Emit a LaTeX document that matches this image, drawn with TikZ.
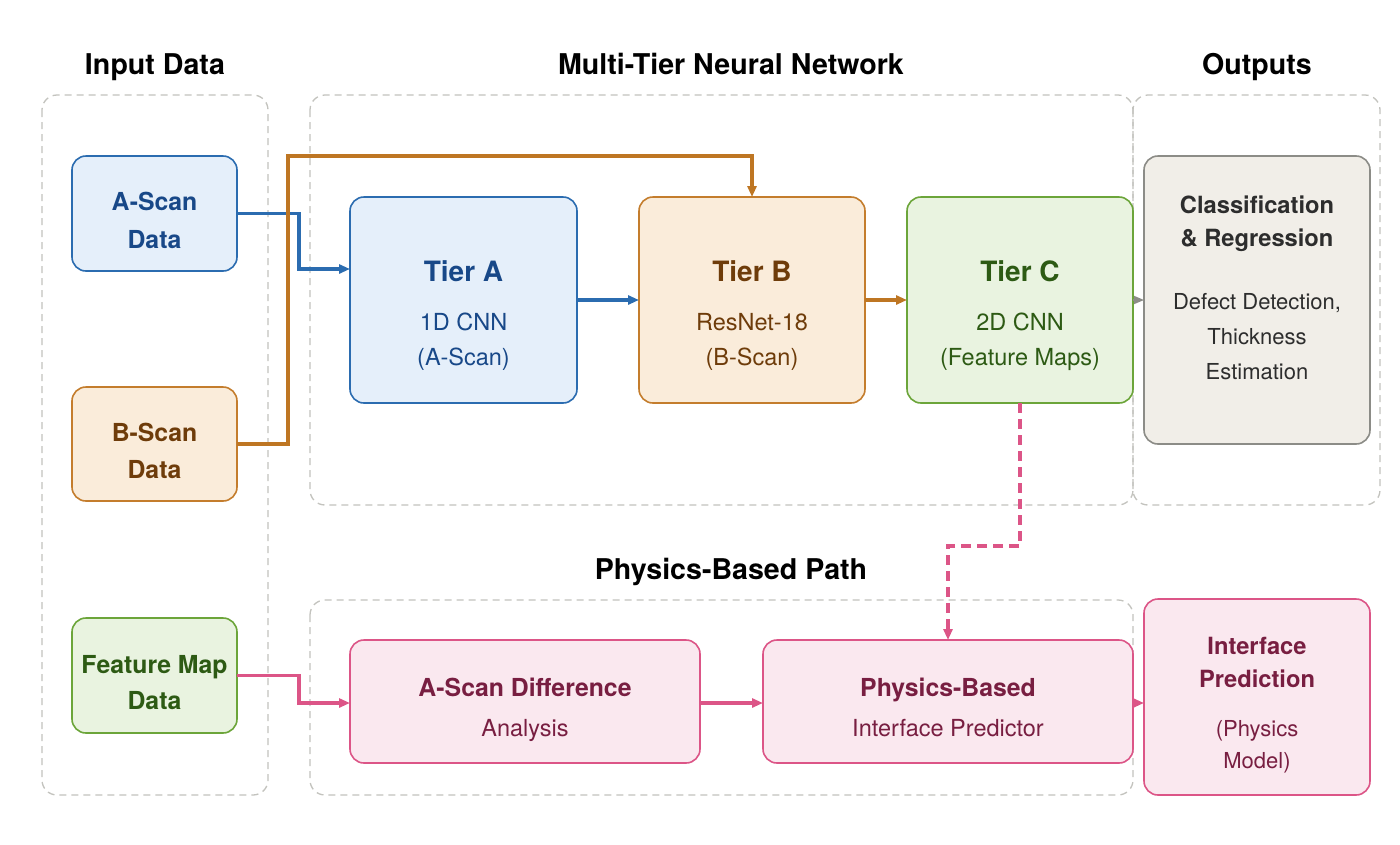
\documentclass[tikz,border=0pt]{standalone}
\usepackage{fontspec}
\setmainfont{TeX Gyre Heros}
\usetikzlibrary{arrows.meta}
\definecolor{bluD}{RGB}{43,108,176}
\definecolor{bluF}{RGB}{229,239,250}
\definecolor{bluT}{RGB}{24,72,136}
\definecolor{oraD}{RGB}{196,125,45}
\definecolor{oraF}{RGB}{250,236,218}
\definecolor{oraT}{RGB}{110,60,10}
\definecolor{oraA}{RGB}{190,118,35}
\definecolor{grnD}{RGB}{108,165,58}
\definecolor{grnF}{RGB}{233,243,224}
\definecolor{grnT}{RGB}{45,90,20}
\definecolor{gryD}{RGB}{140,140,135}
\definecolor{gryF}{RGB}{241,238,232}
\definecolor{gryT}{RGB}{45,45,45}
\definecolor{pnkD}{RGB}{220,85,135}
\definecolor{pnkF}{RGB}{250,232,239}
\definecolor{pnkT}{RGB}{120,30,65}
\definecolor{grpD}{RGB}{195,195,190}
\tikzset{
  grp/.style={draw=grpD, line width=1.3pt, dash pattern=on 7pt off 5pt, rounded corners=15pt},
  box/.style={rectangle, rounded corners=14pt, line width=1.6pt, inner sep=0pt, outer sep=0pt},
  bbox/.style={box, draw=bluD, fill=bluF},
  obox/.style={box, draw=oraD, fill=oraF},
  gbox/.style={box, draw=grnD, fill=grnF},
  ybox/.style={box, draw=gryD, fill=gryF},
  pbox/.style={box, draw=pnkD, fill=pnkF},
  ttl/.style={anchor=base, font=\fontsize{28.6}{30}\selectfont\bfseries, text=black, inner sep=0pt},
  hb/.style={anchor=base, font=\fontsize{24.8}{28}\selectfont\bfseries, inner sep=0pt},
  hbo/.style={anchor=base, font=\fontsize{23.7}{28}\selectfont\bfseries, inner sep=0pt},
  ht/.style={anchor=base, font=\fontsize{28}{32}\selectfont\bfseries, inner sep=0pt},
  tx/.style={anchor=base, font=\fontsize{23.5}{26}\selectfont, inner sep=0pt},
  txo/.style={anchor=base, font=\fontsize{22}{26}\selectfont, inner sep=0pt},
  tip/.style={-{Triangle[length=11pt,width=9pt]}},
  barrow/.style={tip, draw=bluD, line width=3.2pt},
  oarrow/.style={tip, draw=oraA, line width=3.2pt},
  parrow/.style={tip, draw=pnkD, line width=3.2pt},
  garrow/.style={-{Triangle[length=10pt,width=8pt]}, draw=gryD, line width=1.5pt},
  darrow/.style={-{Triangle[length=11pt,width=9pt]}, draw=pnkD, line width=3.2pt, dash pattern=on 10pt off 6pt},
}
\begin{document}
\begin{tikzpicture}[x=1pt,y=-1pt]
\useasboundingbox (0,0) rectangle (1400,844);
\fill[white] (0,0) rectangle (1400,844);
% groups
\draw[grp] (42,95) rectangle (268,795);
\draw[grp] (310,95) rectangle (1133,505);
\draw[grp] (1133,95) rectangle (1380,505);
\draw[grp] (310,600) rectangle (1133,795);
% titles
\node[ttl] (t1) at (155,74) {Input Data};
\node[ttl] (t2) at (731,74) {Multi-Tier Neural Network};
\node[ttl] (t3) at (1257,74) {Outputs};
\node[ttl] (t4) at (731,579) {Physics-Based Path};
% input boxes
\node[bbox, minimum width=165pt, minimum height=115pt] (aS) at (154.5,213.5) {};
\node[hb, text=bluT] (aS1) at (154.5,210) {A-Scan};
\node[hb, text=bluT] (aS2) at (154.5,248) {Data};
\node[obox, minimum width=165pt, minimum height=114pt] (bS) at (154.5,444) {};
\node[hb, text=oraT] (bS1) at (154.5,441) {B-Scan};
\node[hb, text=oraT] (bS2) at (154.5,478) {Data};
\node[gbox, minimum width=165pt, minimum height=115pt] (fM) at (154.5,675.5) {};
\node[hb, text=grnT] (fM1) at (154.5,673) {Feature Map};
\node[hb, text=grnT] (fM2) at (154.5,709) {Data};
% tiers
\node[bbox, minimum width=227pt, minimum height=206pt] (tA) at (463.5,300) {};
\node[ht, text=bluT] (tA1) at (463.5,281) {Tier A};
\node[tx, text=bluT] (tA2) at (463.5,330) {1D CNN};
\node[tx, text=bluT] (tA3) at (463.5,365.5) {(A-Scan)};
\node[obox, minimum width=226pt, minimum height=206pt] (tB) at (752,300) {};
\node[ht, text=oraT] (tB1) at (752,281) {Tier B};
\node[tx, text=oraT] (tB2) at (752,330) {ResNet-18};
\node[tx, text=oraT] (tB3) at (752,365.5) {(B-Scan)};
\node[gbox, minimum width=226pt, minimum height=206pt] (tC) at (1020,300) {};
\node[ht, text=grnT] (tC1) at (1020,281) {Tier C};
\node[tx, text=grnT] (tC2) at (1020,330) {2D CNN};
\node[tx, text=grnT] (tC3) at (1020,365.5) {(Feature Maps)};
% output
\node[ybox, minimum width=226pt, minimum height=288pt] (cl) at (1257,300) {};
\node[hbo, text=gryT] (cl1) at (1257,213) {Classification};
\node[hbo, text=gryT] (cl2) at (1257,246) {\& Regression};
\node[txo, text=gryT] (cl3) at (1257,309) {Defect Detection,};
\node[txo, text=gryT] (cl4) at (1257,344) {Thickness};
\node[txo, text=gryT] (cl5) at (1257,379) {Estimation};
% physics path
\node[pbox, minimum width=350pt, minimum height=123pt] (ad) at (525,701.5) {};
\node[hb, text=pnkT] (ad1) at (525,696) {A-Scan Difference};
\node[tx, text=pnkT] (ad2) at (525,736) {Analysis};
\node[pbox, minimum width=370pt, minimum height=123pt] (pb) at (948,701.5) {};
\node[hb, text=pnkT] (pb1) at (948,696) {Physics-Based};
\node[tx, text=pnkT] (pb2) at (948,736) {Interface Predictor};
\node[pbox, minimum width=226pt, minimum height=196pt] (ip) at (1257,697) {};
\node[hbo, text=pnkT] (ip1) at (1257,654) {Interface};
\node[hbo, text=pnkT] (ip2) at (1257,687) {Prediction};
\node[txo, text=pnkT] (ip3) at (1257,736) {(Physics};
\node[txo, text=pnkT] (ip4) at (1257,768) {Model)};
% connectors
\draw[barrow] (aS.east) -- ++(62,0) |- ([yshift=31pt]tA.west);
\draw[oarrow] (bS.east) -- ++(51,0) |- ([yshift=41pt]tB.north) -- (tB.north);
\draw[barrow] (tA.east) -- (tB.west);
\draw[oarrow] (tB.east) -- (tC.west);
\draw[garrow] (tC.east) -- (cl.west);
\draw[parrow] (fM.east) -- ++(62,0) |- ([yshift=-1.5pt]ad.west);
\draw[parrow] ([yshift=-1.5pt]ad.east) -- ([yshift=-1.5pt]pb.west);
\draw[parrow] ([yshift=-1.5pt]pb.east) -- ([yshift=-1.5pt]pb.east -| ip.west);
\draw[darrow] (tC.south) -- ++(0,143) -| (pb.north);
\end{tikzpicture}
\end{document}
